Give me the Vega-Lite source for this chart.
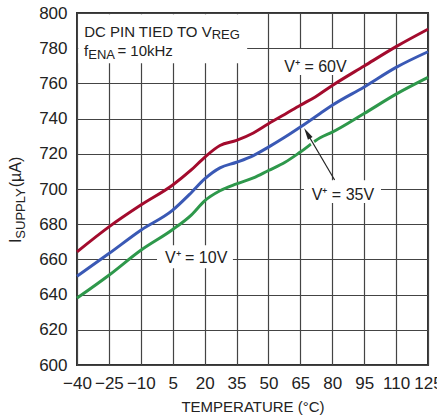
{
  "$schema": "https://vega.github.io/schema/vega-lite/v6.json",
  "autosize": {"type": "none"},
  "padding": {"left": 77, "top": 13, "right": 9, "bottom": 53},
  "width": 351,
  "height": 352,
  "background": "white",
  "data": {
    "values": [
      {"series": "60V", "temp": -40, "isupply": 664.3},
      {"series": "60V", "temp": -25, "isupply": 678.5},
      {"series": "60V", "temp": -10, "isupply": 690.9},
      {"series": "60V", "temp": 5, "isupply": 702.3},
      {"series": "60V", "temp": 13.7, "isupply": 710.8},
      {"series": "60V", "temp": 20, "isupply": 718},
      {"series": "60V", "temp": 27.2, "isupply": 724.7},
      {"series": "60V", "temp": 35, "isupply": 727.6},
      {"series": "60V", "temp": 42.9, "isupply": 731.8},
      {"series": "60V", "temp": 50, "isupply": 737.1},
      {"series": "60V", "temp": 57.8, "isupply": 742.5},
      {"series": "60V", "temp": 65, "isupply": 747.6},
      {"series": "60V", "temp": 72, "isupply": 752.3},
      {"series": "60V", "temp": 80, "isupply": 758.8},
      {"series": "60V", "temp": 95, "isupply": 769.9},
      {"series": "60V", "temp": 110, "isupply": 780.9},
      {"series": "60V", "temp": 125, "isupply": 790.8},
      {"series": "35V", "temp": -40, "isupply": 650.4},
      {"series": "35V", "temp": -25, "isupply": 663.3},
      {"series": "35V", "temp": -10, "isupply": 676.6},
      {"series": "35V", "temp": 5, "isupply": 688},
      {"series": "35V", "temp": 13.7, "isupply": 697.9},
      {"series": "35V", "temp": 20, "isupply": 705.7},
      {"series": "35V", "temp": 27.2, "isupply": 712},
      {"series": "35V", "temp": 35, "isupply": 715.2},
      {"series": "35V", "temp": 42.9, "isupply": 719},
      {"series": "35V", "temp": 50, "isupply": 723.8},
      {"series": "35V", "temp": 57.8, "isupply": 729.5},
      {"series": "35V", "temp": 65, "isupply": 735.2},
      {"series": "35V", "temp": 74.3, "isupply": 742.9},
      {"series": "35V", "temp": 80, "isupply": 747.6},
      {"series": "35V", "temp": 95, "isupply": 758},
      {"series": "35V", "temp": 110, "isupply": 769.1},
      {"series": "35V", "temp": 125, "isupply": 778},
      {"series": "10V", "temp": -40, "isupply": 638},
      {"series": "10V", "temp": -25, "isupply": 651},
      {"series": "10V", "temp": -10, "isupply": 665.2},
      {"series": "10V", "temp": 5, "isupply": 677},
      {"series": "10V", "temp": 13.7, "isupply": 685.2},
      {"series": "10V", "temp": 20, "isupply": 693.3},
      {"series": "10V", "temp": 27.2, "isupply": 699},
      {"series": "10V", "temp": 35, "isupply": 702.9},
      {"series": "10V", "temp": 42.9, "isupply": 706.3},
      {"series": "10V", "temp": 50, "isupply": 710.5},
      {"series": "10V", "temp": 57.8, "isupply": 715.2},
      {"series": "10V", "temp": 65, "isupply": 721},
      {"series": "10V", "temp": 74.3, "isupply": 729.1},
      {"series": "10V", "temp": 80, "isupply": 732.3},
      {"series": "10V", "temp": 95, "isupply": 742.9},
      {"series": "10V", "temp": 110, "isupply": 753.9},
      {"series": "10V", "temp": 125, "isupply": 763.4}
    ]
  },
  "layer": [
    {
      "mark": {"type": "line", "strokeWidth": 3, "interpolate": "monotone"},
      "encoding": {
        "x": {
          "field": "temp",
          "type": "quantitative",
          "scale": {"domain": [-40, 125], "nice": false, "zero": false},
          "axis": {
            "title": "TEMPERATURE (°C)",
            "values": [-40, -25, -10, 5, 20, 35, 50, 65, 80, 95, 110, 125],
            "tickCount": 20
          }
        },
        "y": {
          "field": "isupply",
          "type": "quantitative",
          "scale": {"domain": [600, 800], "nice": false, "zero": false},
          "axis": {
            "title": null,
            "values": [600, 620, 640, 660, 680, 700, 720, 740, 760, 780, 800],
            "tickCount": 20
          }
        },
        "color": {
          "field": "series",
          "type": "nominal",
          "scale": {"domain": ["60V", "35V", "10V"], "range": ["#a30b2d", "#3a59b5", "#2e984b"]},
          "legend": null
        }
      }
    },
    {
      "data": {"values": [{}]},
      "mark": {"type": "rect", "color": "white"},
      "encoding": {
        "x": {"datum": -39.4, "type": "quantitative"},
        "x2": {"datum": 40},
        "y": {"datum": 799.3, "type": "quantitative"},
        "y2": {"datum": 771.5}
      }
    },
    {
      "data": {"values": [{}]},
      "mark": {"type": "rect", "color": "white"},
      "encoding": {
        "x": {"datum": 54.5, "type": "quantitative"},
        "x2": {"datum": 86},
        "y": {"datum": 779.5, "type": "quantitative"},
        "y2": {"datum": 764.8}
      }
    },
    {
      "data": {"values": [{}]},
      "mark": {"type": "rect", "color": "white"},
      "encoding": {
        "x": {"datum": 66.7, "type": "quantitative"},
        "x2": {"datum": 102.9},
        "y": {"datum": 705, "type": "quantitative"},
        "y2": {"datum": 692}
      }
    },
    {
      "data": {"values": [{}]},
      "mark": {"type": "rect", "color": "white"},
      "encoding": {
        "x": {"datum": -2.4, "type": "quantitative"},
        "x2": {"datum": 33.3},
        "y": {"datum": 668, "type": "quantitative"},
        "y2": {"datum": 655}
      }
    },
    {
      "data": {"values": [{}]},
      "mark": {"type": "rule", "color": "white", "strokeWidth": 4},
      "encoding": {
        "x": {"datum": 72.3, "type": "quantitative"},
        "y": {"datum": 723, "type": "quantitative"},
        "x2": {"datum": 69.3},
        "y2": {"datum": 729.1}
      }
    },
    {
      "data": {"values": [{}]},
      "mark": {"type": "rule", "color": "#222", "strokeWidth": 1.2},
      "encoding": {
        "x": {"datum": 81.1, "type": "quantitative"},
        "y": {"datum": 705.1, "type": "quantitative"},
        "x2": {"datum": 68.2},
        "y2": {"datum": 731.7}
      }
    },
    {
      "data": {"values": [{}]},
      "mark": {"type": "point", "shape": "M0,-1L0.45,1L-0.45,1Z", "filled": true, "color": "#222", "opacity": 1, "size": 144, "angle": 329},
      "encoding": {
        "x": {"datum": 68.2, "type": "quantitative"},
        "y": {"datum": 731.7, "type": "quantitative"}
      }
    },
    {
      "data": {"values": [{}]},
      "mark": {"type": "text", "align": "right", "baseline": "alphabetic", "font": "Liberation Sans", "fontSize": 15, "color": "#222"},
      "encoding": {
        "x": {"datum": 23.3, "type": "quantitative"},
        "y": {"datum": 786.5, "type": "quantitative"},
        "text": {"value": "DC PIN TIED TO V"}
      }
    },
    {
      "data": {"values": [{}]},
      "mark": {"type": "text", "align": "left", "baseline": "alphabetic", "font": "Liberation Sans", "fontSize": 13, "color": "#222"},
      "encoding": {
        "x": {"datum": 23.3, "type": "quantitative"},
        "y": {"datum": 785.4, "type": "quantitative"},
        "text": {"value": "REG"}
      }
    },
    {
      "data": {"values": [{}]},
      "mark": {"type": "text", "align": "right", "baseline": "alphabetic", "font": "Liberation Sans", "fontSize": 15, "color": "#222"},
      "encoding": {
        "x": {"datum": -34.7, "type": "quantitative"},
        "y": {"datum": 775.7, "type": "quantitative"},
        "text": {"value": "f"}
      }
    },
    {
      "data": {"values": [{}]},
      "mark": {"type": "text", "align": "left", "baseline": "alphabetic", "font": "Liberation Sans", "fontSize": 13, "color": "#222"},
      "encoding": {
        "x": {"datum": -34.7, "type": "quantitative"},
        "y": {"datum": 774.0, "type": "quantitative"},
        "text": {"value": "ENA"}
      }
    },
    {
      "data": {"values": [{}]},
      "mark": {"type": "text", "align": "left", "baseline": "alphabetic", "font": "Liberation Sans", "fontSize": 15, "color": "#222"},
      "encoding": {
        "x": {"datum": -21.0, "type": "quantitative"},
        "y": {"datum": 775.7, "type": "quantitative"},
        "text": {"value": "= 10kHz"}
      }
    },
    {
      "data": {"values": [{}]},
      "mark": {"type": "text", "align": "center", "baseline": "alphabetic", "font": "Liberation Sans", "fontSize": 16, "color": "#222"},
      "encoding": {
        "x": {"datum": 72.1, "type": "quantitative"},
        "y": {"datum": 766.6, "type": "quantitative"},
        "text": {"value": "V⁺ = 60V"}
      }
    },
    {
      "data": {"values": [{}]},
      "mark": {"type": "text", "align": "center", "baseline": "alphabetic", "font": "Liberation Sans", "fontSize": 16, "color": "#222"},
      "encoding": {
        "x": {"datum": 85, "type": "quantitative"},
        "y": {"datum": 693.8, "type": "quantitative"},
        "text": {"value": "V⁺ = 35V"}
      }
    },
    {
      "data": {"values": [{}]},
      "mark": {"type": "text", "align": "center", "baseline": "alphabetic", "font": "Liberation Sans", "fontSize": 16, "color": "#222"},
      "encoding": {
        "x": {"datum": 16, "type": "quantitative"},
        "y": {"datum": 657.8, "type": "quantitative"},
        "text": {"value": "V⁺ = 10V"}
      }
    },
    {
      "data": {"values": [{}]},
      "mark": {"type": "text", "angle": 270, "align": "right", "baseline": "alphabetic", "font": "Liberation Sans", "fontSize": 16, "color": "#222"},
      "encoding": {
        "x": {"datum": -66.3, "type": "quantitative"},
        "y": {"datum": 671.8, "type": "quantitative"},
        "text": {"value": "I"}
      }
    },
    {
      "data": {"values": [{}]},
      "mark": {"type": "text", "angle": 270, "align": "left", "baseline": "alphabetic", "font": "Liberation Sans", "fontSize": 13, "color": "#222"},
      "encoding": {
        "x": {"datum": -64.4, "type": "quantitative"},
        "y": {"datum": 671.8, "type": "quantitative"},
        "text": {"value": "SUPPLY"}
      }
    },
    {
      "data": {"values": [{}]},
      "mark": {"type": "text", "angle": 270, "align": "left", "baseline": "alphabetic", "font": "Liberation Sans", "fontSize": 16, "color": "#222"},
      "encoding": {
        "x": {"datum": -66.3, "type": "quantitative"},
        "y": {"datum": 701.0, "type": "quantitative"},
        "text": {"value": " (µA)"}
      }
    }
  ],
  "config": {
    "view": {"stroke": "#333", "strokeWidth": 2},
    "axis": {
      "domain": false,
      "ticks": false,
      "grid": true,
      "gridColor": "#444",
      "gridWidth": 1.2,
      "gridOpacity": 1,
      "labelFont": "Liberation Sans",
      "labelFontSize": 17,
      "labelColor": "#222",
      "labelPadding": 10,
      "labelFlush": false,
      "labelOverlap": false,
      "labelBound": false,
      "titleFont": "Liberation Sans",
      "titleFontSize": 15,
      "titleFontWeight": "normal",
      "titleColor": "#222",
      "titlePadding": 8
    }
  }
}
